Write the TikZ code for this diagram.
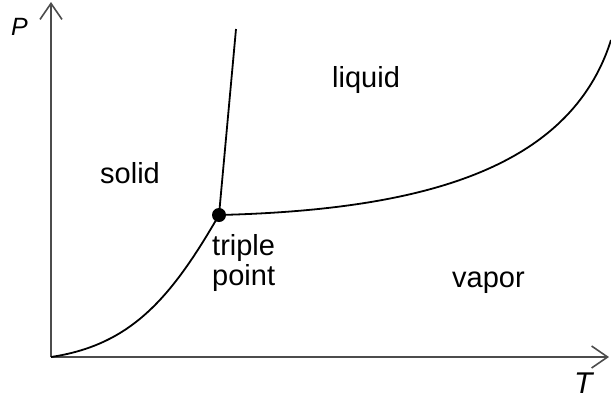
\documentclass[tikz,border=0pt]{standalone}
\usepackage{fontspec}
\setmainfont{Liberation Sans}
\usetikzlibrary{arrows.meta}
\begin{document}
\begin{tikzpicture}[x=1pt,y=-1pt,
  axis/.style={draw=black!70,line width=1.8pt,-{Straight Barb[length=16pt,width=22pt,line width=1.6pt]}},
  curve/.style={draw=black,line width=1.8pt},
  lbl/.style={inner sep=0pt,anchor=base west,font=\fontsize{29}{30}\selectfont},
  axlbl/.style={inner sep=0pt,anchor=base west}]
\useasboundingbox (0,0) rectangle (611,400);
\coordinate (O) at (51,357);
\coordinate (Ptop) at (51,2);
\coordinate (Tend) at (609,357);
\coordinate (tp) at (219,215);
\coordinate (ftop) at (236,29);
\coordinate (vend) at (611,40);
\draw[axis] (O) -- (Ptop);
\draw[axis] (O) -- (Tend);
\begin{scope}
\clip (0,0) rectangle (611,400);
\draw[curve] (O) .. controls (130,345) and (170,300) .. (tp);
\draw[curve] (tp) .. controls (420,210) and (570,170) .. (vend);
\draw[curve] (tp) -- (ftop);
\end{scope}
\fill (tp) circle (7);
\node[axlbl,font=\fontsize{25}{26}\selectfont\itshape] (P) at (11,35) {P};
\node[axlbl,font=\fontsize{30}{31}\selectfont\itshape] (T) at (574,393) {T};
\node[lbl] (solid) at (100,183) {solid};
\node[lbl] (liquid) at (332,87) {liquid};
\node[lbl] (vapor) at (452,287) {vapor};
\node[lbl] (triple) at (212,255) {triple};
\node[lbl] (point) at (212,285) {point};
\end{tikzpicture}
\end{document}
